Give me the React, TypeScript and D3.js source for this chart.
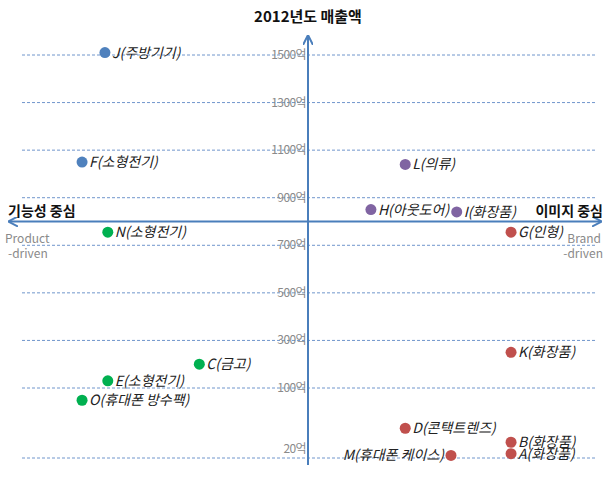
import React from "react";
import * as d3 from "d3";

const W = 606;
const H = 477;

// Data
const names = ["J", "F", "L", "H", "I", "G", "N", "K", "C", "E", "O", "D", "B", "M", "A"];
const categories = ["주방기기", "소형전기", "의류", "아웃도어", "화장품", "인형", "소형전기", "화장품", "금고", "소형전기", "휴대폰 방수팩", "콘택트렌즈", "화장품", "휴대폰 케이스", "화장품"];
// positioning: -100 = product-driven (기능성), +100 = brand-driven (이미지)
const positioning = [-71, -79, 34, 22, 52, 71, -70, 71, -38, -70, -79, 34, 71, 50, 71];
// 2012 sales (억)
const sales = [1510, 1050, 1040, 850, 840, 755, 755, 250, 200, 130, 86, 54, 38, 23, 25];
const groups = ["blue", "blue", "purple", "purple", "purple", "red", "green", "red", "green", "green", "green", "red", "red", "red", "red"];
const labelSide = ["r", "r", "r", "r", "r", "r", "r", "r", "r", "r", "r", "r", "r", "l", "r"];

const tickValues = [20, 100, 300, 500, 700, 900, 1100, 1300, 1500];
const axisCross = 800;

const colors: Record<string, string> = {
  blue: "#4F81BD",
  purple: "#8064A2",
  red: "#C0504D",
  green: "#00B050",
};

export default function App() {
  const cx = 308;
  const x = d3.scaleLinear().domain([-100, 100]).range([22, 594]);
  const y = d3.scaleLinear().domain([20, 100, 1500]).range([458, 388, 55]);
  const axisColor = "#4A7EBB";
  const font = "'Noto Sans CJK KR', 'Noto Sans', sans-serif";
  const yAxisCross = y(axisCross);

  return (
    <svg
      width={W}
      height={H}
      style={{ position: "absolute", left: 0, top: 0, background: "#fff" }}
      fontFamily={font}
    >
      <defs>
        <marker id="arr" viewBox="0 0 10 10" refX="8" refY="5" markerWidth="5" markerHeight="5" orient="auto-start-reverse">
          <path d="M0,0 L10,5 L0,10" fill="none" stroke={axisColor} strokeWidth="2" />
        </marker>
      </defs>

      {/* gridlines */}
      {tickValues.map((t) => (
        <line
          key={"g" + t}
          x1={22}
          x2={597}
          y1={y(t)}
          y2={y(t)}
          stroke="#7096CC"
          strokeWidth={1}
          strokeDasharray="3,2"
        />
      ))}
      {/* tick labels */}
      {tickValues.map((t) => (
        <text
          key={"t" + t}
          x={306}
          y={t === 20 ? y(t) - 5 : y(t) + 4}
          textAnchor="end"
          fontSize={12}
          fill="#8A8A8A"
          letterSpacing={-0.6}
        >
          {t}억
        </text>
      ))}

      {/* axes */}
      <line x1={cx} x2={cx} y1={465} y2={37} stroke={axisColor} strokeWidth={2} markerEnd="url(#arr)" />
      <line x1={10} x2={600} y1={yAxisCross} y2={yAxisCross} stroke={axisColor} strokeWidth={2} markerStart="url(#arr)" markerEnd="url(#arr)" />

      {/* title and axis captions */}
      <text x={cx} y={22} textAnchor="middle" fontSize={15} fontWeight="bold" fill="#111">2012년도 매출액</text>
      <text x={8} y={216} fontSize={14} fontWeight="bold" fill="#111">기능성 중심</text>
      <text x={603} y={216} textAnchor="end" fontSize={14} fontWeight="bold" fill="#111">이미지 중심</text>
      <text x={5} y={243} fontSize={12} fill="#8A8A8A">Product</text>
      <text x={8} y={258} fontSize={12} fill="#8A8A8A">-driven</text>
      <text x={601} y={243} textAnchor="end" fontSize={12} fill="#8A8A8A">Brand</text>
      <text x={603} y={258} textAnchor="end" fontSize={12} fill="#8A8A8A">-driven</text>

      {/* points */}
      {names.map((n, i) => {
        const px = x(positioning[i]);
        const py = y(sales[i]);
        const left = labelSide[i] === "l";
        return (
          <g key={n}>
            <circle cx={px} cy={py} r={5.5} fill={colors[groups[i]]} />
            <text
              x={left ? px - 7 : px + 7}
              y={py + 5}
              textAnchor={left ? "end" : "start"}
              fontSize={14}
              fontStyle="italic"
              fill="#222"
            >
              {n}({categories[i]})
            </text>
          </g>
        );
      })}
    </svg>
  );
}
